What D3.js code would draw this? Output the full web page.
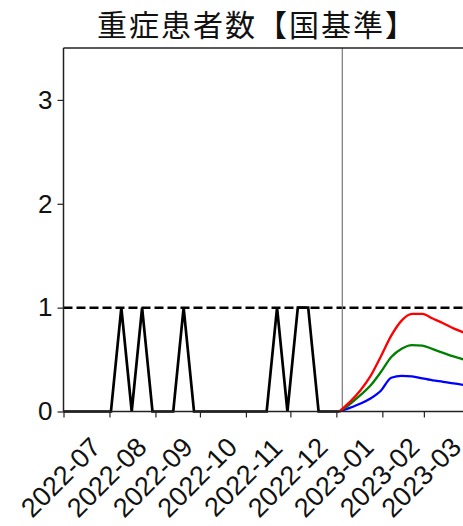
<!DOCTYPE html>
<html><head><meta charset="utf-8">
<script src="https://cdn.jsdelivr.net/npm/d3@7"></script>
<style>
html,body{margin:0;padding:0;background:#fff;overflow:hidden;}
svg{display:block;}
</style></head>
<body>
<script>
const titleText = "重症患者数【国基準】";
const yTicks = [0, 1, 2, 3];
const xTickLabels = ["2022-07","2022-08","2022-09","2022-10","2022-11","2022-12","2023-01","2023-02","2023-03"];
const threshold = 1;
const markerDate = "2023-01-05";

const actualDates = ["2022-06-28","2022-07-05","2022-07-12","2022-07-19","2022-07-26","2022-08-02","2022-08-09","2022-08-16","2022-08-23","2022-08-30","2022-09-06","2022-09-13","2022-09-20","2022-09-27","2022-10-04","2022-10-11","2022-10-18","2022-10-25","2022-11-01","2022-11-08","2022-11-15","2022-11-22","2022-11-29","2022-12-06","2022-12-13","2022-12-20","2022-12-27","2023-01-03"];
const actualValues = [0,0,0,0,0,0,1,0,1,0,0,0,1,0,0,0,0,0,0,0,0,1,0,1,1,0,0,0];

const projDates = ["2023-01-03","2023-01-10","2023-01-17","2023-01-24","2023-01-31","2023-02-07","2023-02-14","2023-02-21","2023-02-28","2023-03-07","2023-03-14","2023-03-21","2023-03-28"];
const redValues   = [0.0, 0.09, 0.20, 0.34, 0.53, 0.73, 0.875, 0.94, 0.94, 0.895, 0.85, 0.80, 0.76];
const greenValues = [0.0, 0.07, 0.155, 0.25, 0.38, 0.525, 0.605, 0.64, 0.635, 0.60, 0.565, 0.53, 0.50];
const blueValues  = [0.0, 0.035, 0.075, 0.125, 0.20, 0.325, 0.343, 0.338, 0.318, 0.30, 0.286, 0.27, 0.256];

(function () {
const W = 463, H = 526;
const pLeft = 63.5, pTop = 48, pBottom = 411.5;
const parse = d3.utcParse("%Y-%m-%d");
const parseM = d3.utcParse("%Y-%m");

const x = d3.scaleUtc()
  .domain([parse("2022-07-01"), parse("2023-04-01")])
  .range([pLeft, pLeft + 274 * 1.483]);
const y = d3.scaleLinear().domain([0, 3.5]).range([pBottom, pTop]);
const pRight = x.range()[1];

const svg = d3.select("body").append("svg").attr("width", W).attr("height", H);

svg.append("defs").append("clipPath").attr("id", "clip")
  .append("rect").attr("x", pLeft).attr("y", pTop - 5).attr("width", pRight - pLeft).attr("height", pBottom - pTop + 10);

const tickFont = "'Liberation Sans', Arial, sans-serif";

svg.append("text").attr("x", 257).attr("y", 36)
  .attr("text-anchor", "middle")
  .attr("font-family", "'Noto Sans CJK JP', sans-serif")
  .attr("font-size", 30).attr("letter-spacing", 2).attr("fill", "#111")
  .text(titleText);

const plot = svg.append("g").attr("clip-path", "url(#clip)");

plot.append("line")
  .attr("x1", pLeft).attr("x2", pRight)
  .attr("y1", y(threshold)).attr("y2", y(threshold))
  .attr("stroke", "#000").attr("stroke-width", 2.5).attr("stroke-dasharray", "9,4");

plot.append("line")
  .attr("x1", x(parse(markerDate))).attr("x2", x(parse(markerDate)))
  .attr("y1", pTop).attr("y2", pBottom)
  .attr("stroke", "#777").attr("stroke-width", 1.2);

const lineLin = d3.line().x(d => x(d[0])).y(d => y(d[1]));
const lineSm = d3.line().x(d => x(d[0])).y(d => y(d[1])).curve(d3.curveMonotoneX);

plot.append("path")
  .datum(actualDates.map((d, i) => [parse(d), actualValues[i]]))
  .attr("d", lineLin).attr("fill", "none")
  .attr("stroke", "#000").attr("stroke-width", 2.7).attr("stroke-linejoin", "miter");

[[blueValues, "#0000ff"], [greenValues, "#008000"], [redValues, "#ff0000"]].forEach(([vals, col]) => {
  plot.append("path")
    .datum(projDates.map((d, i) => [parse(d), vals[i]]))
    .attr("d", lineSm).attr("fill", "none")
    .attr("stroke", col).attr("stroke-width", 2.3);
});

svg.append("line").attr("x1", pLeft).attr("x2", pLeft).attr("y1", pTop).attr("y2", pBottom)
  .attr("stroke", "#222").attr("stroke-width", 1.5);
svg.append("line").attr("x1", pLeft).attr("x2", pRight).attr("y1", pTop).attr("y2", pTop)
  .attr("stroke", "#222").attr("stroke-width", 1.5);
svg.append("line").attr("x1", pLeft).attr("x2", pRight).attr("y1", pBottom).attr("y2", pBottom)
  .attr("stroke", "#222").attr("stroke-width", 1.5);

const yAxis = d3.axisLeft(y).tickValues(yTicks).tickSize(6).tickPadding(5).tickFormat(d3.format("d"));
const gy = svg.append("g").attr("transform", `translate(${pLeft},0)`).call(yAxis);
gy.select(".domain").remove();
gy.selectAll(".tick line").attr("stroke", "#222").attr("stroke-width", 1.2);
gy.selectAll(".tick text").attr("font-family", tickFont).attr("font-size", 26).attr("fill", "#111");

const xTickDates = xTickLabels.map(s => parseM(s));
const xAxis = d3.axisBottom(x).tickValues(xTickDates).tickSize(6).tickFormat((d, i) => xTickLabels[i]);
const gx = svg.append("g").attr("transform", `translate(0,${pBottom})`).call(xAxis);
gx.select(".domain").remove();
gx.selectAll(".tick line").attr("stroke", "#222").attr("stroke-width", 1.2);
gx.selectAll(".tick text")
  .attr("font-family", tickFont).attr("font-size", 27).attr("fill", "#111")
  .attr("text-anchor", "middle").attr("dy", null).attr("y", null)
  .attr("dominant-baseline", "central")
  .attr("transform", "translate(-3,66) rotate(-45)");
})();
</script>
</body></html>
